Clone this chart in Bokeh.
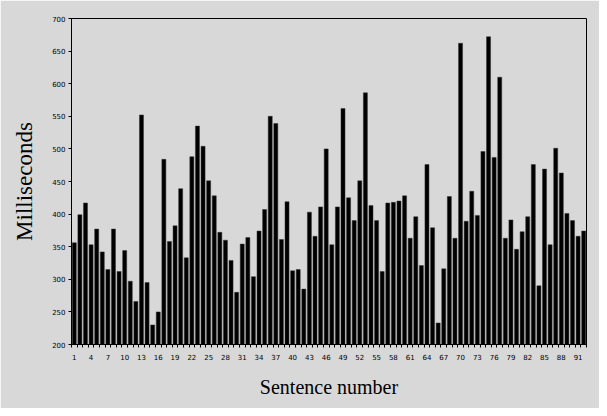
from bokeh.plotting import figure
from bokeh.models import FixedTicker, Range1d
from bokeh.embed import file_html
from bokeh.resources import INLINE

# ---- data ----
sentences = list(range(1, 93))
milliseconds = [
    356, 399, 417, 353, 377, 342, 315, 377, 312, 344,
    297, 266, 552, 295, 230, 250, 484, 358, 382, 439,
    333, 488, 535, 504, 451, 428, 372, 360, 329, 280,
    354, 364, 304, 374, 407, 550, 539, 361, 419, 313,
    315, 285, 403, 366, 411, 500, 353, 411, 562, 425,
    390, 451, 586, 413, 390, 312, 417, 418, 420, 428,
    363, 396, 321, 476, 379, 233, 316, 427, 363, 662,
    389, 435, 398, 496, 672, 487, 610, 363, 391, 346,
    373, 396, 476, 290, 469, 353, 501, 463, 401, 390,
    366, 374,
]
x_tick_labels = list(range(1, 93, 3))
y_ticks = list(range(200, 701, 50))
x_label = "Sentence number"
y_label = "Milliseconds"

BG = "#d8d8d8"

p = figure(width=599, height=408, output_backend="svg", toolbar_location=None,
           x_range=Range1d(0.5, 92.5), y_range=Range1d(200, 700),
           min_border_left=71, min_border_right=13,
           min_border_top=18, min_border_bottom=64)

p.background_fill_color = BG
p.border_fill_color = BG
p.outline_line_color = "black"
p.outline_line_width = 1
p.xgrid.visible = False
p.ygrid.visible = False

p.vbar(x=sentences, top=milliseconds, bottom=200, width=0.72,
       fill_color="black", line_color="#333333", line_width=0.5)

# y axis
ya = p.yaxis[0]
ya.ticker = FixedTicker(ticks=y_ticks)
ya.major_tick_out = 3
ya.major_tick_in = 0
ya.minor_tick_out = 0
ya.minor_tick_in = 0
ya.axis_line_color = "black"
ya.major_tick_line_color = "black"
ya.major_label_text_font = "DejaVu Sans"
ya.major_label_text_font_size = "7px"
ya.major_label_text_color = "black"
ya.major_label_standoff = 3
ya.axis_label = y_label
ya.axis_label_text_font = "Liberation Serif"
ya.axis_label_text_font_style = "normal"
ya.axis_label_text_font_size = "23px"
ya.axis_label_text_color = "black"
ya.axis_label_standoff = 12

# x axis
xa = p.xaxis[0]
xa.ticker = FixedTicker(ticks=x_tick_labels,
                        minor_ticks=[i + 0.5 for i in range(0, 93)])
xa.major_tick_out = 0
xa.major_tick_in = 0
xa.minor_tick_out = 3
xa.minor_tick_in = 0
xa.axis_line_color = "black"
xa.minor_tick_line_color = "black"
xa.major_label_text_font = "DejaVu Sans"
xa.major_label_text_font_size = "7px"
xa.major_label_text_color = "black"
xa.major_label_standoff = 6
xa.axis_label = x_label
xa.axis_label_text_font = "Liberation Serif"
xa.axis_label_text_font_style = "normal"
xa.axis_label_text_font_size = "20px"
xa.axis_label_text_color = "black"
xa.axis_label_standoff = 13

open("out.html", "w").write(file_html(p, INLINE))
